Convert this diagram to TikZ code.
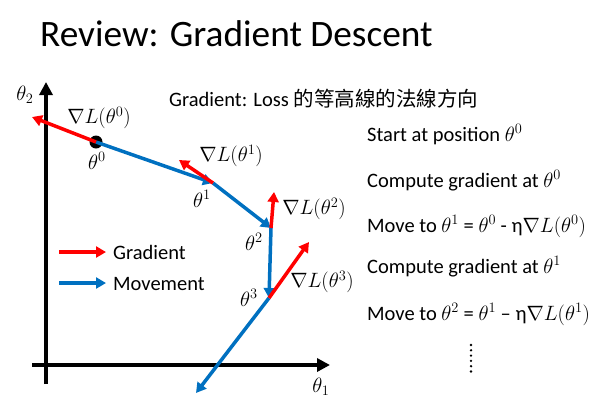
\documentclass[tikz,border=0pt]{standalone}
\usepackage{fontspec}
\setmainfont{Carlito}
\newfontfamily\cjk{Noto Sans CJK TC}
\usetikzlibrary{arrows.meta}
\definecolor{gradred}{RGB}{255,0,0}
\definecolor{moveblue}{RGB}{0,112,192}
\newcommand\mymath[1]{{\fontsize{22.5}{26}\selectfont$#1$}}
\begin{document}
\begin{tikzpicture}[x=1pt,y=-1pt,
  axis/.style={line width=4pt,-{Triangle[length=13pt,width=13pt]}},
  grad/.style={gradred,line width=3.5pt,-{Triangle[length=10pt,width=11pt]}},
  move/.style={moveblue,line width=3.5pt,-{Triangle[length=10pt,width=11pt]}},
  lbl/.style={font=\fontsize{21}{24}\selectfont,inner sep=0pt},
  txt/.style={font=\fontsize{20.5}{24}\selectfont,inner sep=0pt,anchor=base west}]
\useasboundingbox (0,0) rectangle (609,410);
% title
\node[inner sep=0pt,anchor=base west,font=\fontsize{37.3}{40}\selectfont] (title) at (40,46) {Review: Gradient Descent};
% axes
\coordinate (ybot) at (46,384);
\coordinate (ytop) at (46,82);
\coordinate (xl) at (32,365);
\coordinate (xr) at (330,365);
\draw[axis] (ybot) -- (ytop);
\draw[axis] (xl) -- (xr);
\node[lbl] (ax2) at (25,95) {$\theta_2$};
\node[lbl] (ax1) at (321,387) {$\theta_1$};
% points
\node[circle,fill=black,inner sep=0pt,minimum size=13pt] (t0) at (96,142) {};
\coordinate (t1) at (213,183);
\coordinate (t2) at (271,228);
\coordinate (t3) at (269,298);
\coordinate (tend) at (196,393);
\coordinate (g0) at (32,117);
\coordinate (g1) at (179,160);
\coordinate (g2) at (274,192);
\coordinate (g3) at (309,242);
% movement
\draw[move] (t0.center) -- (t1);
\draw[move] (t1) -- (t2);
\draw[move] (t2) -- (t3);
\draw[move] (t3) -- (tend);
% gradients
\draw[grad] (t0.center) -- (g0);
\draw[grad] (t1) -- (g1);
\draw[grad] (t2) -- (g2);
\draw[grad] (t3) -- (g3);
% labels
\node[lbl] (n0) at (99,118) {$\nabla L(\theta^0)$};
\node[lbl] (p0) at (97,161) {$\theta^0$};
\node[lbl] (n1) at (231,156) {$\nabla L(\theta^1)$};
\node[lbl] (p1) at (202,199) {$\theta^1$};
\node[lbl] (n2) at (314,209) {$\nabla L(\theta^2)$};
\node[lbl] (p2) at (254,242) {$\theta^2$};
\node[lbl] (n3) at (322,282) {$\nabla L(\theta^3)$};
\node[lbl] (p3) at (249,298) {$\theta^3$};
% legend
\coordinate (lg1a) at (59,252);
\coordinate (lg1b) at (106,252);
\coordinate (lg2a) at (59,283);
\coordinate (lg2b) at (106,283);
\draw[grad] (lg1a) -- (lg1b);
\draw[move] (lg2a) -- (lg2b);
\node[txt] (lgt1) at (113,259) {Gradient};
\node[txt] (lgt2) at (113,290) {Movement};
% texts
\node[txt] (hdr) at (169,106) {Gradient: Loss {\cjk 的等高線的法線方向}};
\node[txt] (s1) at (367,141) {Start at position \mymath{\theta^0}};
\node[txt] (s2) at (367,187) {Compute gradient at \mymath{\theta^0}};
\node[txt] (s3) at (367,232) {Move to \mymath{\theta^1} = \mymath{\theta^0} - η\mymath{\nabla L(\theta^0)}};
\node[txt] (s4) at (367,273) {Compute gradient at \mymath{\theta^1}};
\node[txt] (s5) at (367,320) {Move to \mymath{\theta^2} = \mymath{\theta^1} – η\mymath{\nabla L(\theta^1)}};
\coordinate (d1) at (471,345);
\coordinate (d2) at (471,373);
\draw[line width=2.6pt,line cap=round,dash pattern=on 0pt off 5.3pt] (d1) -- (d2);
\end{tikzpicture}
\end{document}
